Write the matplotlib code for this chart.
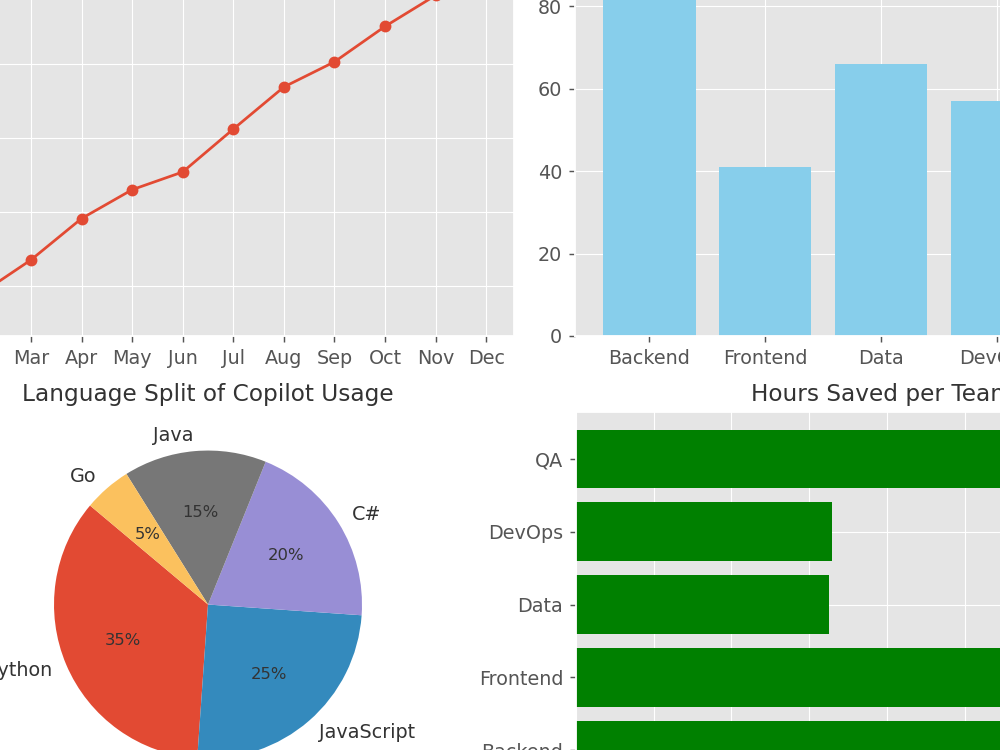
import matplotlib
matplotlib.use("Agg")
import matplotlib.pyplot as plt

plt.style.use("ggplot")
plt.rcParams["font.size"] = 10.5
plt.rcParams["text.color"] = "#333333"
plt.rcParams["grid.linewidth"] = 0.6

months = ["Jan", "Feb", "Mar", "Apr", "May", "Jun",
          "Jul", "Aug", "Sep", "Oct", "Nov", "Dec"]
adoption = [15.6, 18.9, 23.5, 29.1, 33.0, 35.4, 41.2, 46.9, 50.3, 55.1, 59.3, 62.9]

teams = ["Backend", "Frontend", "Data", "DevOps", "QA"]
acceptance = [89, 41, 66, 57, 72]

languages = ["Python", "JavaScript", "C#", "Java", "Go"]
lang_share = [35, 25, 20, 15, 5]

hours_saved = [120, 150, 65, 66, 130]

dpi = 131
fig = plt.figure(figsize=(1000 / dpi, 750 / dpi), dpi=dpi)

# the picture is a zoomed middle part of a 2x2 grid, so the axes run past the edges
ax1 = fig.add_axes([-0.098, 0.552, 0.612, 0.5133])
ax2 = fig.add_axes([0.575, 0.552, 0.612, 0.5133])
ax3 = fig.add_axes([-0.098, -0.0627, 0.612, 0.5133])
ax4 = fig.add_axes([0.576, -0.0627, 0.612, 0.5133])

ax1.plot(months, adoption, marker="o", markersize=5.5)
ax1.set_title("Monthly Copilot Adoption (%)", fontsize=12.8)
ax1.set_ylim(13.2, 65.3)

ax2.bar(teams, acceptance, color="skyblue")
ax2.set_title("Suggestion Acceptance Rate by Team", fontsize=12.8)

wedges, texts, pcts = ax3.pie(lang_share, labels=languages, autopct="%1.0f%%",
                              startangle=140)
for t in pcts:
    t.set_fontsize(9)
ax3.set_title("Language Split of Copilot Usage", fontsize=12.8)

ax4.barh(teams, hours_saved, color="green")
ax4.set_title("Hours Saved per Team", fontsize=12.8)
ax4.set_xlabel("Hours")

fig.savefig("out.png", dpi=dpi)
